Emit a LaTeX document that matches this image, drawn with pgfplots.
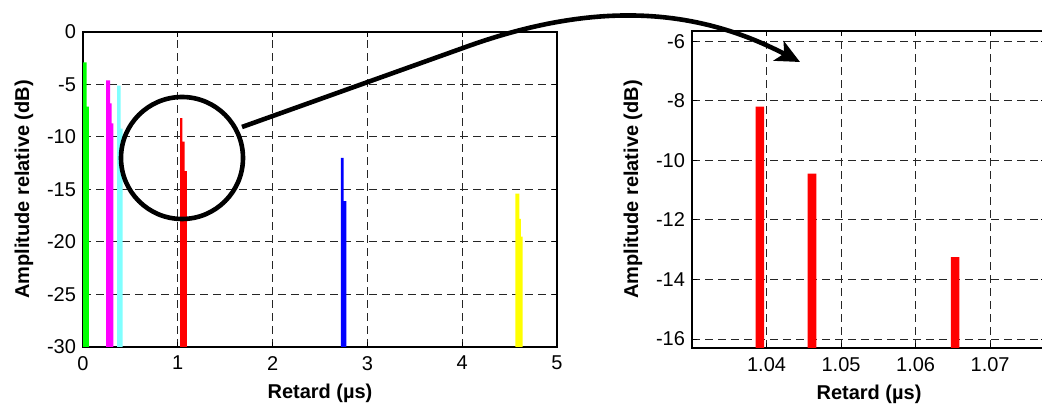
\documentclass[border=0pt]{standalone}
\usepackage{fontspec}
\setmainfont{Liberation Sans}
\usepackage{pgfplots}
\pgfplotsset{compat=1.18}
\usetikzlibrary{arrows.meta}

\definecolor{mgreen}{RGB}{0,255,0}
\definecolor{mmagenta}{RGB}{255,0,255}
\definecolor{mcyan}{RGB}{128,255,255}
\definecolor{mred}{RGB}{255,0,0}
\definecolor{mblue}{RGB}{0,0,255}
\definecolor{myellow}{RGB}{255,255,0}

\pgfplotsset{
  matlab/.style={
    scale only axis,
    axis line style={line width=0.8pt},
    grid=major,
    grid style={black!85, line width=0.5pt, dash pattern=on 4pt off 2.5pt},
    tick align=inside, major tick length=2.5pt,
    tick style={black, line width=0.5pt},
    tick label style={font=\fontsize{10}{12}\selectfont},
    xticklabel style={yshift=-1pt},
    /pgf/number format/assume math mode=true,
    label style={font=\fontsize{10}{12}\selectfont\bfseries},
    xlabel={Retard (µs)},
    ylabel={Amplitude relative (dB)},
  },
  spike/.style={ybar interval, fill=#1, draw=none},
}

\begin{document}
\begin{tikzpicture}
\useasboundingbox (0,0) rectangle (521pt,202.5pt);

% overview: y shifted by +30 so that bars start at -30 dB
\begin{axis}[matlab, at={(41.5pt,29pt)}, anchor=south west,
  width=237pt, height=157.5pt,
  xmin=0, xmax=5, xtick={0,1,...,5},
  y filter/.expression={y+30},
  ymin=0, ymax=30, ytick={0,5,...,30},
  yticklabels={-30,-25,-20,-15,-10,-5,0}]
\addplot[spike=mgreen] coordinates {(0,-2.9)(0.039,-7.1)(0.063,-7.1)};
\addplot[spike=mmagenta] coordinates {(0.243,-4.6)(0.285,-6.8)(0.303,-8.7)(0.320,-8.7)};
\addplot[spike=mcyan] coordinates {(0.359,-5.1)(0.398,-9.2)(0.419,-9.2)};
\addplot[spike=mred] coordinates {(1.024,-8.2)(1.049,-10.45)(1.072,-13.25)(1.095,-13.25)};
\addplot[spike=mblue] coordinates {(2.721,-12.0)(2.749,-16.1)(2.777,-16.1)};
\addplot[spike=myellow] coordinates {(4.562,-15.4)(4.604,-17.8)(4.618,-19.5)(4.636,-19.5)};
\end{axis}

% zoom on the red cluster
\begin{axis}[matlab, at={(346pt,28.5pt)}, anchor=south west,
  width=177pt, height=158.5pt,
  xmin=1.03, xmax=1.0775, xtick={1.04,1.05,1.06,1.07},
  scaled x ticks=false,
  xticklabel style={/pgf/number format/fixed, /pgf/number format/precision=2},
  y filter/.expression={y+20},
  ymin=3.7, ymax=14.34, ytick={4,6,...,14},
  yticklabels={-16,-14,-12,-10,-8,-6}]
\addplot[ybar, bar width=0.00116, fill=mred, draw=none]
  coordinates {(1.0391,-8.2)(1.0461,-10.45)(1.0653,-13.25)};
\end{axis}

\begin{scope}[shift={(0,202.5pt)}, x=0.5pt, y=-0.5pt]
\draw[line width=2.3pt] (182,158) circle[radius=30.5pt];
\draw[line width=2.3pt, -{Stealth[length=12pt, width=11pt, inset=3pt]}]
  (242,127) -- (463,48) .. controls (600,-2) and (700,10) .. (800,62);
\end{scope}
\end{tikzpicture}
\end{document}
